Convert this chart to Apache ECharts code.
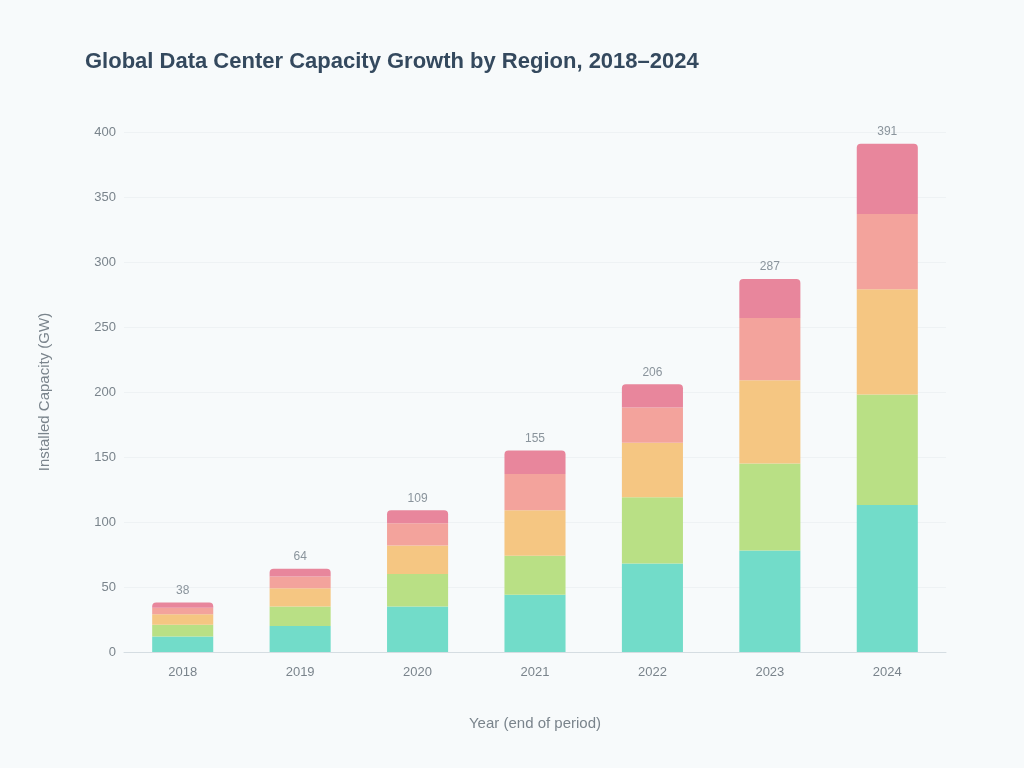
<!DOCTYPE html>
<html lang="en">
  <head>
    <meta charset="UTF-8" />
    <title>Chart</title>
    <script src="https://cdn.jsdelivr.net/npm/echarts@6/dist/echarts.min.js"></script>
    <style>
      html, body { margin: 0; padding: 0; background: #f7fafb; }
    </style>
  </head>
  <body>
    <!-- chart container -->
    <div id="chart" style="width: 1024px; height: 768px"></div>

    <script>
      // data
      var years = ["2018", "2019", "2020", "2021", "2022", "2023", "2024"];
      var seriesNames = ["North America", "Europe", "Asia Pacific", "Latin America", "Middle East & Africa"];
      var northAmerica = [12, 20, 35, 44, 68, 78, 113];
      var europe = [9, 15, 25, 30, 51, 67, 85];
      var asiaPacific = [8, 14, 22, 35, 42, 64, 81];
      var latinAmerica = [5, 9, 17, 28, 27, 48, 58];
      var middleEast = [4, 6, 10, 18, 18, 30, 54];
      var yTicks = [0, 50, 100, 150, 200, 250, 300, 350, 400];

      var colors = ["#72dcc9", "#b9e085", "#f5c682", "#f3a39c", "#e8869c"];
      var values = [northAmerica, europe, asiaPacific, latinAmerica, middleEast];

      var totals = years.map(function (y, i) {
        return values.reduce(function (s, arr) { return s + arr[i]; }, 0);
      });

      var myChart = echarts.init(document.getElementById("chart"));

      var series = seriesNames.map(function (name, k) {
        return {
          name: name,
          type: "bar",
          stack: "total",
          barWidth: "52%",
          itemStyle: {
            color: colors[k],
            borderRadius: k === seriesNames.length - 1 ? [4, 4, 0, 0] : 0
          },
          data: values[k]
        };
      });

      // invisible series for total labels above bars
      series.push({
        name: "Total",
        type: "bar",
        stack: "total",
        barWidth: "52%",
        itemStyle: { color: "transparent" },
        label: {
          show: true,
          position: "insideBottom",
          distance: 6,
          color: "#8a949c",
          fontSize: 12,
          formatter: function (p) { return totals[p.dataIndex]; }
        },
        tooltip: { show: false },
        data: years.map(function () { return 0.001; })
      });

      var option = {
        backgroundColor: "#f7fafb",
        title: {
          text: "Global Data Center Capacity Growth by Region, 2018–2024",
          left: 80,
          top: 46,
          textStyle: { color: "#34495e", fontSize: 22, fontWeight: "bold" }
        },
        legend: { show: false },
        grid: { left: 124, right: 78, top: 132, bottom: 116 },
        xAxis: {
          type: "category",
          data: years,
          name: "Year (end of period)",
          nameLocation: "middle",
          nameGap: 64,
          nameTextStyle: { color: "#7a848c", fontSize: 15 },
          axisLine: { lineStyle: { color: "#d5dde2" } },
          axisTick: { show: false },
          axisLabel: { color: "#7a848c", fontSize: 13, margin: 14 }
        },
        yAxis: {
          type: "value",
          min: yTicks[0],
          max: yTicks[yTicks.length - 1],
          interval: yTicks[1] - yTicks[0],
          name: "Installed Capacity (GW)",
          nameLocation: "middle",
          nameGap: 72,
          nameTextStyle: { color: "#7a848c", fontSize: 15 },
          axisLine: { show: false },
          axisTick: { show: false },
          axisLabel: { color: "#7a848c", fontSize: 13 },
          splitLine: { lineStyle: { color: "#eef2f4" } }
        },
        series: series
      };

      myChart.setOption(option);
    </script>
  </body>
</html>
